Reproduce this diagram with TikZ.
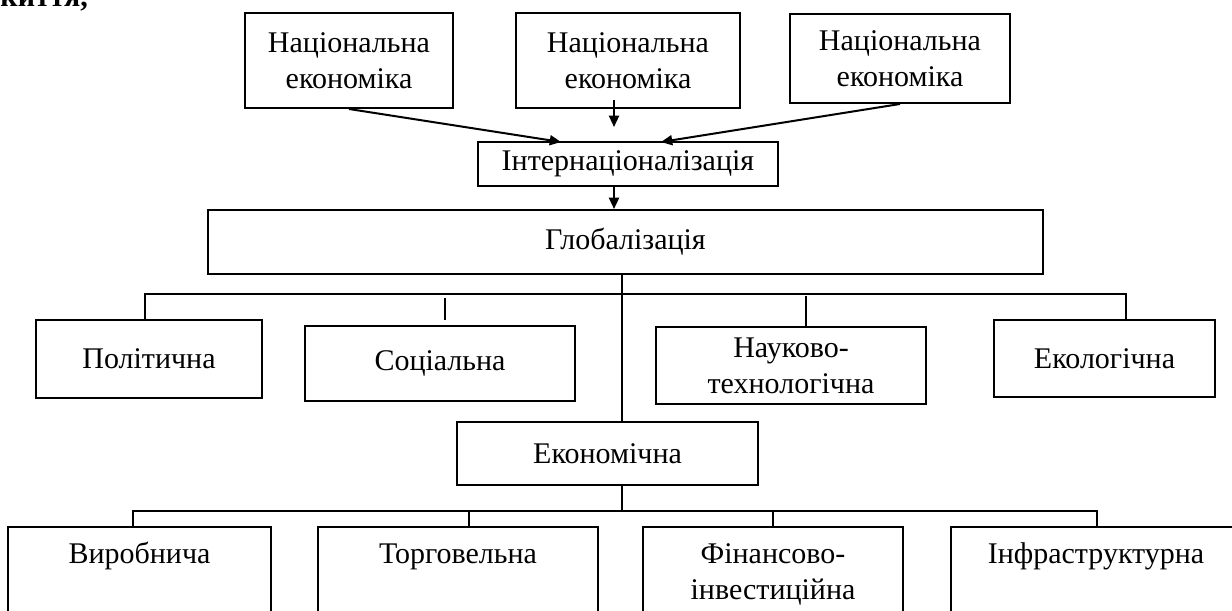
\documentclass[tikz,border=0pt]{standalone}
\usepackage{fontspec}
\setmainfont{Liberation Serif}
\usetikzlibrary{positioning}
\usetikzlibrary{arrows.meta}
\newcommand{\pxl}{0.4pt}
\tikzset{
    box/.style={draw, thick, align=center, inner sep=0pt},
    lowbox/.style={box, anchor=north, inner ysep=4pt, text height=10.4pt, text depth=31pt},
    line/.style={thick},
    arr/.style={thick, -{Triangle[length=4.5pt,width=4pt]}}
}

\begin{document}
\begin{tikzpicture}[x=\pxl, y=-\pxl, font=\fontsize{12pt}{14.5pt}\selectfont]
	\useasboundingbox (0,0) rectangle (1232,611);
	\node[anchor=base west, inner sep=0pt, font=\fontsize{12pt}{14.5pt}\selectfont\bfseries] (head) at (0,7) {киття,};
	% top row
	\node[box, minimum width=208*\pxl, minimum height=95*\pxl] (ne1) at (349,60.5) {Національна\\економіка};
	\node[box, minimum width=224*\pxl, minimum height=95*\pxl] (ne2) at (628,60.5) {Національна\\економіка};
	\node[box, minimum width=220*\pxl, minimum height=89*\pxl] (ne3) at (900,58.5) {Національна\\економіка};
	\node[box, minimum width=300*\pxl, minimum height=44*\pxl] (int) at (628,164) {Інтернаціоналізація};
	\node[box, minimum width=835*\pxl, minimum height=64*\pxl] (glob) at (625.5,242) {Глобалізація};
	% second row
	\node[box, minimum width=226*\pxl, minimum height=78*\pxl] (pol) at (149,359) {Політична};
	\node[box, minimum width=270*\pxl, minimum height=75*\pxl] (soc) at (440,363.5) {Соціальна};
	\node[box, minimum width=270*\pxl, minimum height=77*\pxl] (nt) at (791,365.5) {Науково-\\технологічна};
	\node[box, minimum width=221*\pxl, minimum height=77*\pxl] (ecol) at (1104.5,358.5) {Екологічна};
	\node[box, minimum width=301*\pxl, minimum height=63*\pxl] (econ) at (607.5,453.5) {Економічна};
	% bottom row
	\node[lowbox, minimum width=263*\pxl] (vyr) at (139.5,526) {Виробнича};
	\node[lowbox, minimum width=280*\pxl] (torg) at (458,526) {Торговельна};
	\node[lowbox, minimum width=260*\pxl, text height=24.9pt, text depth=16.5pt] (fin) at (773,526) {Фінансово-\\інвестиційна};
	\node[lowbox, minimum width=290*\pxl] (infr) at (1096,526) {Інфраструктурна};

	\coordinate (in1) at (561,142);
	\coordinate (in3) at (661,142);
	\coordinate (a2) at (614,100);
	\coordinate (a2e) at (614,127);
	\coordinate (down) at (614,0);
	\coordinate (spine) at (622,0);
	\coordinate (bus1w) at (145,294);
	\coordinate (bus1e) at (1126,294);
	\coordinate (t2) at (445,298);
	\coordinate (t3) at (806,296);
	\coordinate (bus2w) at (133,511);
	\coordinate (bus2e) at (1097,511);
	\coordinate (t5) at (469,511);
	\coordinate (t6) at (773,511);

	\draw[arr] (ne1.south) -- (in1);
	\draw[arr] (a2) -- (a2e);
	\draw[arr] (ne3.south) -- (in3);
	\draw[arr] (int.south -| down) -- (glob.north -| down);
	\draw[line] (glob.south -| spine) -- (econ.north -| spine);
	\draw[line] (pol.north -| bus1w) -- (bus1w) -- (bus1e) -- (ecol.north -| bus1e);
	\draw[line] (t2) -- ++(0,22);
	\draw[line] (t3) -- (nt.north -| t3);
	\draw[line] (econ.south -| spine) -- (spine |- bus2w);
	\draw[line] (vyr.north -| bus2w) -- (bus2w) -- (bus2e) -- (infr.north -| bus2e);
	\draw[line] (t5) -- (torg.north -| t5);
	\draw[line] (t6) -- (fin.north -| t6);
\end{tikzpicture}
\end{document}
